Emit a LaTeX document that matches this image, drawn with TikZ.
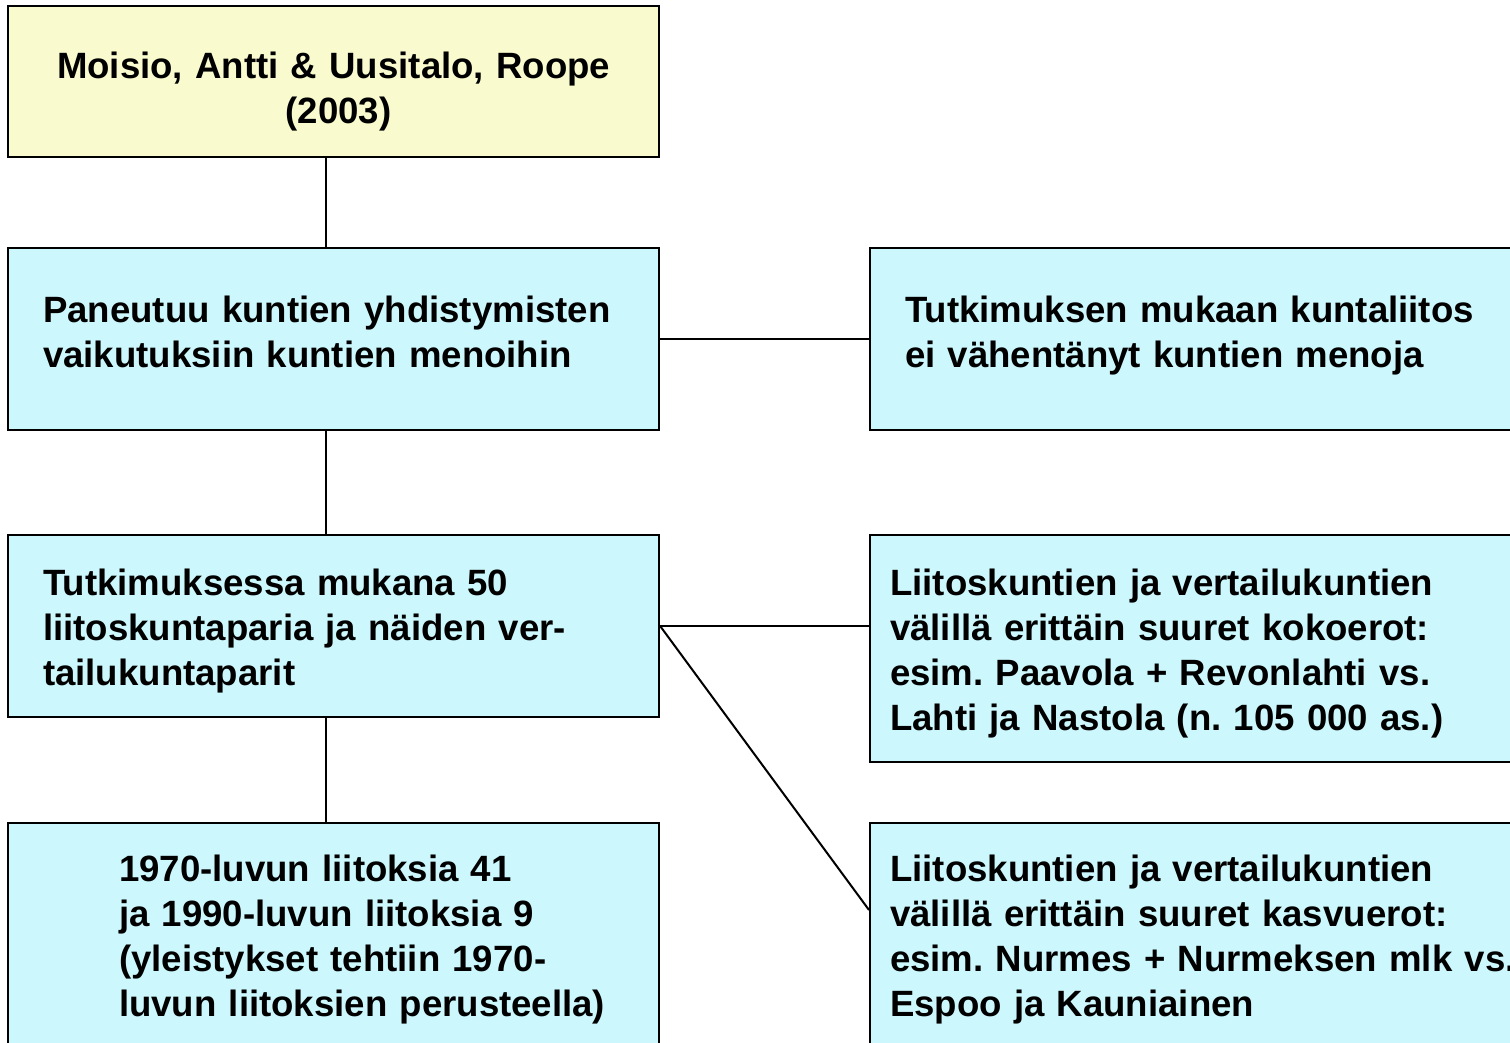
\documentclass[tikz,border=0pt]{standalone}
\usepackage{fontspec}
\setmainfont{Liberation Sans}
\frenchspacing
\definecolor{paleyellow}{RGB}{249,250,205}
\definecolor{palecyan}{RGB}{204,247,252}
\begin{document}
\begin{tikzpicture}[x=1pt,y=-1pt,
    box/.style={draw,line width=2.2pt,rectangle,anchor=north west,fill=palecyan,
      minimum width=651pt,align=left,inner ysep=0pt,
      font=\fontsize{36.6}{45}\selectfont\bfseries},
    link/.style={line width=2pt}]
        \useasboundingbox (0,0) rectangle (1510,1043);
        \clip (0,0) rectangle (1510,1043);
        % Left column
        \node[box,fill=paleyellow,minimum height=151pt,align=center,text width=620pt,text height=47pt] (authors) at (7,5)
          {Moisio, Antti \& Uusitalo, Roope\\\hspace*{10pt}(2003)};
        \node[box,minimum height=182pt,text width=581pt,inner xsep=35pt,text depth=59pt] (focus) at (7,247)
          {Paneutuu kuntien yhdistymisten\\vaikutuksiin kuntien menoihin};
        \node[box,minimum height=182pt,text width=581pt,inner xsep=35pt,text height=37pt] (sample) at (7,534)
          {Tutkimuksessa mukana 50\\liitoskuntaparia ja näiden ver-\\tailukuntaparit};
        \node[box,minimum height=232pt,text width=581pt,inner xsep=35pt] (years) at (7,822)
          {\leftskip=76pt 1970-luvun liitoksia 41\\ja 1990-luvun liitoksia 9\\(yleistykset tehtiin 1970-\\luvun liitoksien perusteella)\par};
        % Right column (runs off the page edge)
        \node[box,minimum width=690pt,minimum height=182pt,text width=620pt,inner xsep=35pt,text depth=59pt] (result) at (869,247)
          {Tutkimuksen mukaan kuntaliitos\\ei vähentänyt kuntien menoja};
        \node[box,minimum width=690pt,minimum height=227pt,text width=650pt,inner xsep=20pt,text height=37pt] (sizes) at (869,534)
          {Liitoskuntien ja vertailukuntien\\välillä erittäin suuret kokoerot:\\esim. Paavola + Revonlahti vs.\\Lahti ja Nastola (n. 105 000 as.)};
        \node[box,minimum width=690pt,minimum height=232pt,text width=650pt,inner xsep=20pt] (growth) at (869,822)
          {Liitoskuntien ja vertailukuntien\\välillä erittäin suuret kasvuerot:\\esim. Nurmes + Nurmeksen mlk vs.\\Espoo ja Kauniainen};
        % Connectors
        \draw[link] ([xshift=-7.5pt]authors.south) -- ([xshift=-7.5pt]focus.north);
        \draw[link] ([xshift=-7.5pt]focus.south) -- ([xshift=-7.5pt]sample.north);
        \draw[link] ([xshift=-7.5pt]sample.south) -- ([xshift=-7.5pt]years.north);
        \draw[link] (focus.east) -- (focus.east -| result.west);
        \draw[link] (sample.east) -- (sample.east -| sizes.west);
        \draw[link] (sample.east) -- ([yshift=-88pt]growth.north west);
\end{tikzpicture}
\end{document}
